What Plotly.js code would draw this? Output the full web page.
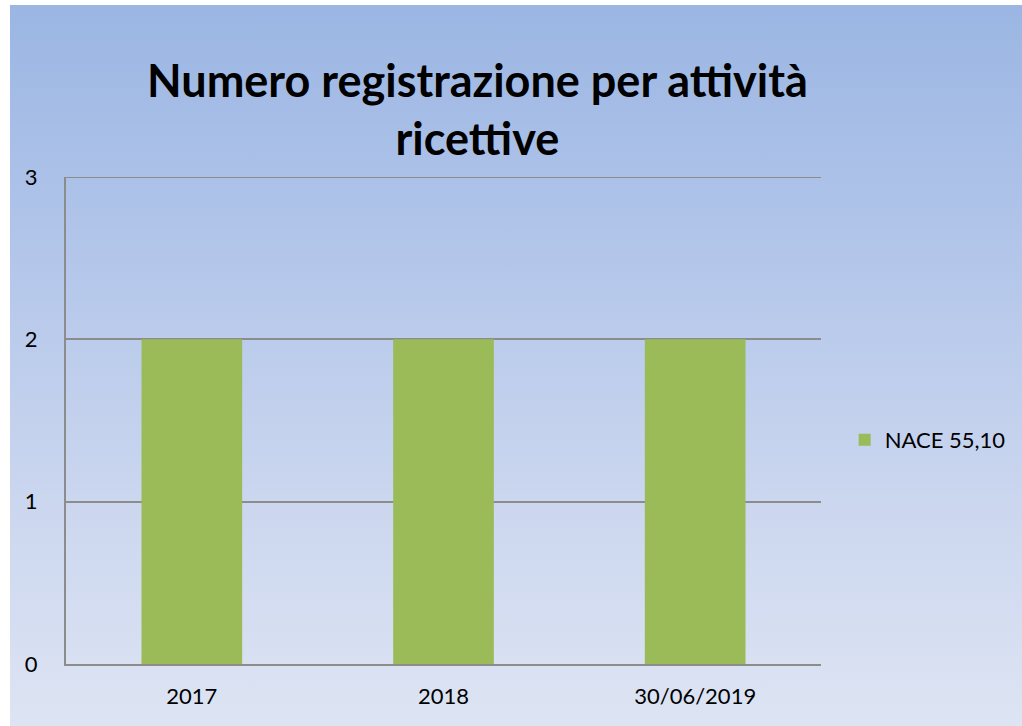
<!DOCTYPE html>
<html>
<head>
<meta charset="utf-8">
<script src="https://cdn.plot.ly/plotly-3.0.1.min.js"></script>
<style>
html,body{margin:0;padding:0;background:#ffffff;}
#bg{position:absolute;left:10px;top:5px;width:1012px;height:721px;background:linear-gradient(to bottom,#9bb6e3 0%,#b3c6ea 35%,#ccd7ef 70%,#dde4f3 100%);}
#chart{position:absolute;left:0;top:0;width:1022px;height:726px;}
</style>
</head>
<body>
<div id="bg"></div>
<div id="chart"></div>
<script>
var categories = ["2017", "2018", "30/06/2019"];
var seriesName = "NACE 55,10";
var values = [2, 2, 2];
var yTicks = [0, 1, 2, 3];

var FONT = "Lato, 'Open Sans', sans-serif";
var trace = {
  type: "bar",
  x: categories,
  y: values,
  name: seriesName,
  marker: {color: "#9bbb59"},
  showlegend: true,
  hoverinfo: "x+y"
};
var yMax = yTicks[yTicks.length - 1];
var layout = {
  width: 1022, height: 726,
  paper_bgcolor: "rgba(0,0,0,0)",
  plot_bgcolor: "rgba(0,0,0,0)",
  margin: {l: 66, r: 200, t: 177, b: 62},
  bargap: 0.6,
  font: {family: FONT, color: "#000000", size: 22},
  title: {
    text: "<b>Numero registrazione per attività<br>ricettive</b>",
    font: {family: FONT, size: 45, color: "#000000"},
    x: 0.545, xanchor: "center", xref: "paper",
    y: 0.867, yanchor: "middle", yref: "container"
  },
  xaxis: {
    type: "category",
    showgrid: false,
    showline: true, linecolor: "#8c8c8c", linewidth: 2,
    ticks: "", ticklabelstandoff: 12,
    tickfont: {family: FONT, size: 22, color: "#000"}
  },
  yaxis: {
    range: [0, yMax],
    tickvals: yTicks,
    showgrid: true, gridcolor: "#8c8c8c", gridwidth: 2,
    zeroline: false,
    showline: true, linecolor: "#8c8c8c", linewidth: 2,
    ticks: "", ticklabelstandoff: 22,
    tickfont: {family: FONT, size: 22, color: "#000"}
  },
  shapes: [{
    type: "line", xref: "paper", yref: "y",
    x0: 0, x1: 1, y0: yMax, y1: yMax,
    line: {color: "#8c8c8c", width: 2}, layer: "below"
  }],
  legend: {
    x: 1.03, xanchor: "left", y: 0.46, yanchor: "middle",
    font: {family: FONT, size: 22, color: "#000"},
    bgcolor: "rgba(0,0,0,0)",
    itemwidth: 30
  }
};
Plotly.newPlot("chart", [trace], layout, {displayModeBar: false});
</script>
</body>
</html>
